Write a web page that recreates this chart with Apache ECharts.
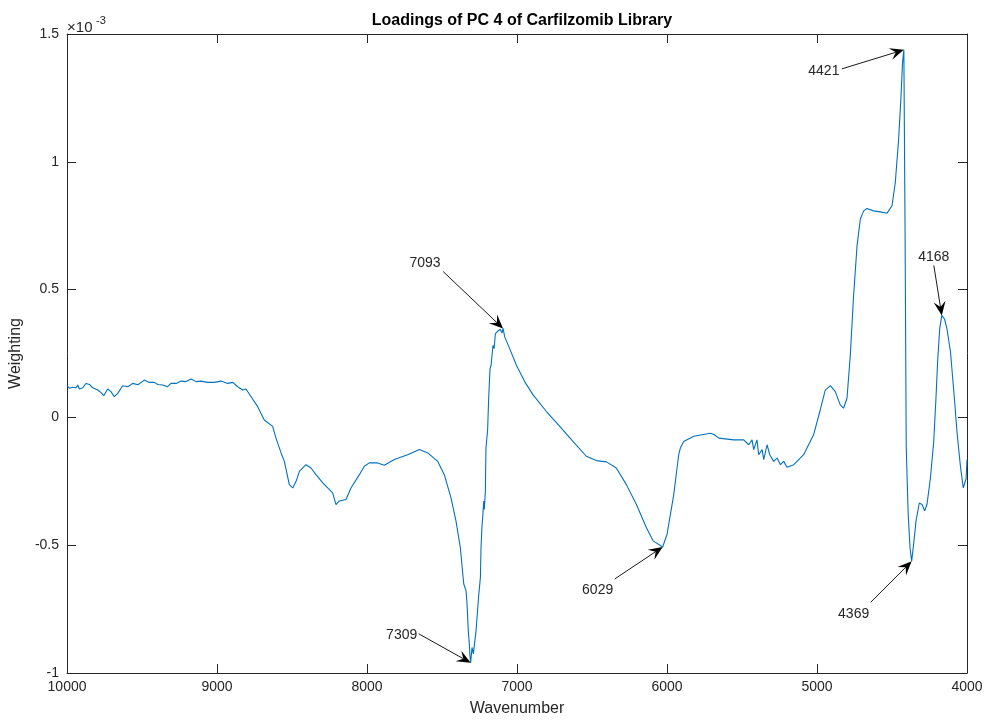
<!DOCTYPE html>
<html><head><meta charset="utf-8">
<script src="https://cdn.jsdelivr.net/npm/echarts@6/dist/echarts.min.js"></script>
<style>html,body{margin:0;padding:0;background:#fff}#c{width:986px;height:722px}</style>
</head><body><div id="c"></div>
<script>
// ---------- data ----------
const chartTitle = 'Loadings of PC 4 of Carfilzomib Library';
const xName = 'Wavenumber';
const yName = 'Weighting';
const yExponent = '-3';

// wavenumber (cm^-1)
const wavenumbers = [
 10000,9985,9962,9940,9929,9918,9895,9873,9851,9829,9795,9773,9755,9729,9707,9685,9662,9629,9595,9562,
 9527,9485,9451,9418,9395,9362,9329,9307,9273,9240,9207,9173,9140,9107,9062,9018,8973,8929,8895,8862,
 8829,8807,8773,8729,8685,8629,8607,8573,8551,8518,8495,8473,8451,8407,8373,8340,8295,8262,8229,8207,
 8185,8140,8107,8051,8018,7985,7929,7885,7818,7729,7651,7595,7529,7485,7440,7407,7378,7355,7340,7333,
 7325,7318,7313,7309,7300,7291,7273,7256,7244,7240,7233,7229,7222,7218,7211,7207,7196,7189,7180,7173,
 7160,7153,7144,7129,7111,7100,7093,7082,7049,7004,6949,6893,6804,6715,6627,6538,6471,6404,6338,6271,
 6204,6138,6093,6029,6000,5955,5922,5911,5889,5822,5711,5684,5655,5555,5489,5478,5455,5433,5422,5400,
 5389,5366,5355,5333,5315,5289,5266,5244,5222,5200,5155,5089,5023,4978,4945,4911,4878,4845,4823,4800,
 4778,4756,4733,4711,4689,4667,4623,4578,4533,4500,4478,4456,4440,4430,4421,4413,4405,4392,4380,4369,
 4356,4340,4318,4300,4282,4267,4244,4222,4207,4196,4182,4168,4150,4133,4110,4084,4067,4045,4025,4015,
 4006,4000
];
// weighting (x 10^-3)
const weights = [
 0.125,0.114,0.118,0.116,0.127,0.111,0.116,0.133,0.129,0.116,0.107,0.097,0.085,0.111,0.101,0.081,0.094,0.124,0.120,0.133,
 0.128,0.146,0.137,0.137,0.129,0.127,0.120,0.133,0.133,0.142,0.140,0.150,0.140,0.142,0.137,0.137,0.142,0.133,0.137,0.120,
 0.107,0.111,0.081,0.042,-0.010,-0.035,-0.081,-0.139,-0.172,-0.263,-0.276,-0.250,-0.211,-0.185,-0.198,-0.224,-0.256,-0.276,-0.295,-0.341,
 -0.327,-0.321,-0.276,-0.224,-0.191,-0.178,-0.178,-0.187,-0.165,-0.146,-0.126,-0.139,-0.172,-0.224,-0.315,-0.405,-0.509,-0.652,-0.678,-0.730,
 -0.834,-0.886,-0.938,-0.960,-0.900,-0.925,-0.834,-0.700,-0.626,-0.509,-0.420,-0.393,-0.327,-0.360,-0.289,-0.120,-0.050,0.075,0.190,0.204,
 0.282,0.269,0.328,0.337,0.345,0.330,0.348,0.315,0.269,0.204,0.140,0.088,0.023,-0.035,-0.094,-0.152,-0.169,-0.174,-0.198,-0.263,
 -0.341,-0.431,-0.483,-0.507,-0.458,-0.302,-0.146,-0.120,-0.094,-0.074,-0.062,-0.068,-0.081,-0.088,-0.088,-0.081,-0.107,-0.088,-0.126,-0.088,
 -0.146,-0.126,-0.165,-0.107,-0.146,-0.172,-0.159,-0.185,-0.172,-0.195,-0.185,-0.146,-0.068,0.030,0.107,0.124,0.101,0.049,0.036,0.075,
 0.243,0.477,0.672,0.776,0.808,0.817,0.808,0.804,0.799,0.828,0.919,1.087,1.256,1.386,1.438,0.737,-0.121,-0.380,-0.509,-0.563,
 -0.497,-0.406,-0.335,-0.341,-0.365,-0.341,-0.238,-0.095,0.074,0.218,0.347,0.399,0.385,0.345,0.256,0.074,-0.055,-0.185,-0.276,-0.270,
 -0.240,-0.165
];

const xTicks = [10000, 9000, 8000, 7000, 6000, 5000, 4000];
const yTicks = [-1, -0.5, 0, 0.5, 1, 1.5];

const peakWavenumbers = [4421, 4168, 7093, 7309, 6029, 4369];
const peakLabels = ['4421', '4168', '7093', '7309', '6029', '4369'];

// ---------- layout / style ----------
const FONT = '"Liberation Sans", Arial, Helvetica, sans-serif';
const AX = '#262626';
// arrow tail offset from tip (px) and text centre offset from tail (px)
const arrowLayout = [
  {tail: [-62, 19], text: [-18, 2]},
  {tail: [-8, -50], text: [0, -8]},
  {tail: [-60, -57], text: [-18, -8]},
  {tail: [-52, -29], text: [-17, 1]},
  {tail: [-48, 32], text: [-17, 11]},
  {tail: [-41, 41], text: [-17, 12]}
];

const chart = echarts.init(document.getElementById('c'), null, {renderer: 'canvas'});
const seriesData = wavenumbers.map((w, i) => [w, weights[i]]);

const commonX = {
  type: 'value', min: xTicks[xTicks.length - 1], max: xTicks[0], interval: 1000, inverse: true,
  axisLine: {show: true, onZero: false, lineStyle: {color: AX, width: 1}},
  axisTick: {show: true, inside: true, length: 9, lineStyle: {color: AX}},
  splitLine: {show: false}
};
const commonY = {
  type: 'value', min: yTicks[0], max: yTicks[yTicks.length - 1], interval: 0.5,
  axisLine: {show: true, onZero: false, lineStyle: {color: AX, width: 1}},
  axisTick: {show: true, inside: true, length: 9, lineStyle: {color: AX}},
  splitLine: {show: false}
};

chart.setOption({
  animation: false,
  backgroundColor: '#fff',
  title: {
    text: chartTitle, left: 517, top: 8, textAlign: 'center',
    textStyle: {fontFamily: FONT, fontSize: 16, fontWeight: 'bold', color: '#000'}
  },
  grid: {left: 67, right: 19, top: 34, bottom: 47, containLabel: false},
  xAxis: [
    Object.assign({}, commonX, {
      position: 'bottom',
      name: xName, nameLocation: 'middle', nameGap: 28,
      nameTextStyle: {fontFamily: FONT, fontSize: 16, color: AX},
      axisLabel: {show: true, fontFamily: FONT, fontSize: 14, color: AX, margin: 7, formatter: v => String(v)}
    }),
    Object.assign({}, commonX, {position: 'top', axisLabel: {show: false}})
  ],
  yAxis: [
    Object.assign({}, commonY, {
      position: 'left',
      name: yName, nameLocation: 'middle', nameGap: 37,
      nameTextStyle: {fontFamily: FONT, fontSize: 16, color: AX},
      axisLabel: {show: true, fontFamily: FONT, fontSize: 14, color: AX, margin: 8, formatter: v => String(v)}
    }),
    Object.assign({}, commonY, {position: 'right', axisLabel: {show: false}})
  ],
  series: [{
    type: 'line', xAxisIndex: 0, yAxisIndex: 0, data: seriesData,
    showSymbol: false, symbol: 'none', smooth: false,
    lineStyle: {color: '#0072BD', width: 1.1}
  }]
});

// annotations: arrows + labels, tips located on the data via the axes
const graphics = [];
const corner = chart.convertToPixel({xAxisIndex: 0, yAxisIndex: 0}, [xTicks[0], yTicks[yTicks.length - 1]]);
graphics.push({type: 'text', x: corner[0], y: corner[1] + 1, style: {text: '\u00d710', fontFamily: FONT, fontSize: 15, fill: AX, align: 'left', verticalAlign: 'bottom'}});
graphics.push({type: 'text', x: corner[0] + 29, y: corner[1] - 8, style: {text: yExponent, fontFamily: FONT, fontSize: 11, fill: AX, align: 'left', verticalAlign: 'bottom'}});

peakWavenumbers.forEach((w, i) => {
  const idx = wavenumbers.indexOf(w);
  const tip = chart.convertToPixel({seriesIndex: 0}, [w, weights[idx]]);
  const lay = arrowLayout[i];
  const tail = [tip[0] + lay.tail[0], tip[1] + lay.tail[1]];
  let dx = tip[0] - tail[0], dy = tip[1] - tail[1];
  const len = Math.hypot(dx, dy); dx /= len; dy /= len;
  const L = 14, W = 12;
  const bx = tip[0] - dx * L, by = tip[1] - dy * L;
  const nx = tip[0] - dx * L * 0.6, ny = tip[1] - dy * L * 0.6;
  const px = -dy, py = dx;
  graphics.push({type: 'line', shape: {x1: tail[0], y1: tail[1], x2: nx, y2: ny}, style: {stroke: '#1a1a1a', lineWidth: 1}, z: 100});
  graphics.push({type: 'polygon', shape: {points: [[tip[0], tip[1]], [bx + px * W / 2, by + py * W / 2], [nx, ny], [bx - px * W / 2, by - py * W / 2]]}, style: {fill: '#000'}, z: 101});
  graphics.push({type: 'text', x: tail[0] + lay.text[0], y: tail[1] + lay.text[1], style: {text: peakLabels[i], fontFamily: FONT, fontSize: 14, fill: AX, align: 'center', verticalAlign: 'middle'}, z: 102});
});
chart.setOption({graphic: graphics});
</script>
</body></html>
